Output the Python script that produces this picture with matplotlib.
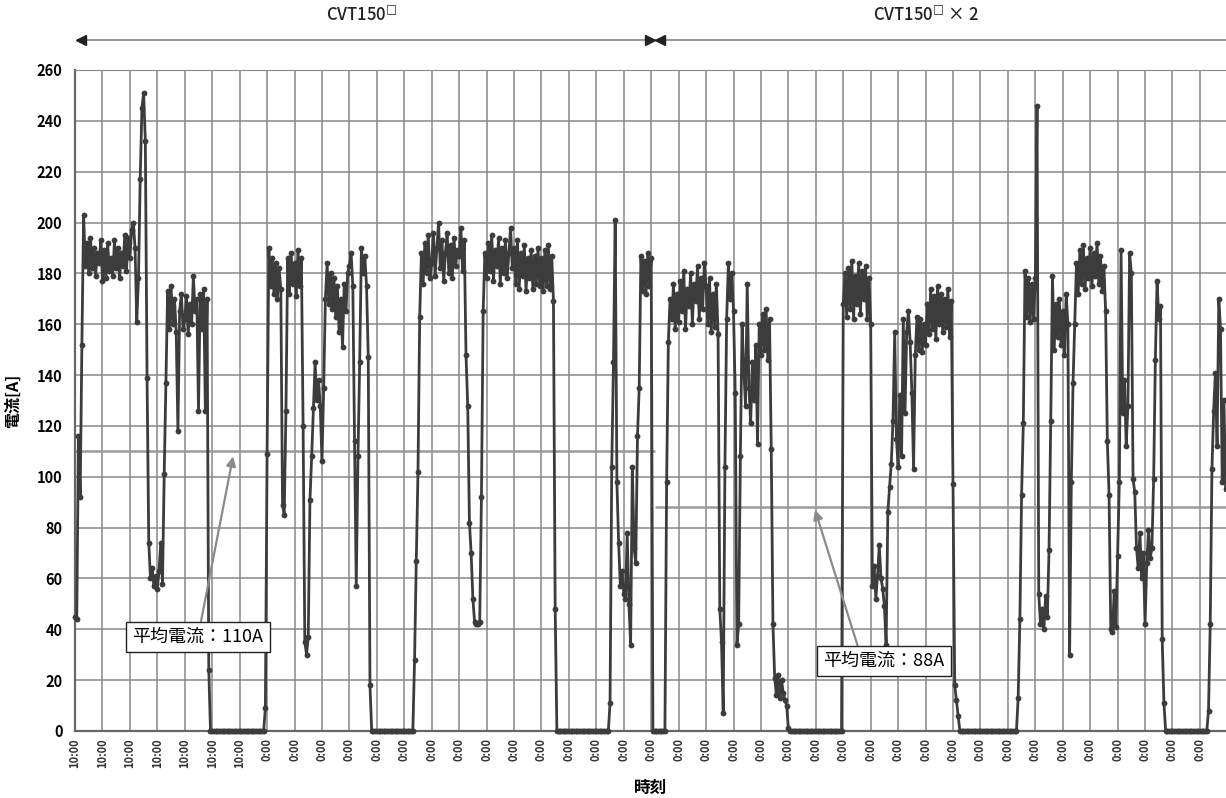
import numpy as np
import matplotlib
matplotlib.use('Agg')
import matplotlib.pyplot as plt
from matplotlib.transforms import blended_transform_factory

plt.rcParams['font.family'] = ['Noto Sans CJK JP', 'DejaVu Sans']

# Logged load current [A]; 16 samples per grid interval on the time axis
SAMPLES_PER_TICK = 16
current_a = [
    45, 44, 116, 92, 152, 203, 183, 192, 180, 194, 182, 190, 179, 188, 184, 193,
    177, 189, 178, 192, 181, 186, 179, 193, 182, 190, 178, 188, 183, 195, 181, 194,
    186, 197, 200, 190, 161, 178, 217, 245, 251, 232, 139, 74, 60, 64, 57, 61,
    56, 63, 74, 58, 101, 137, 173, 158, 175, 160, 170, 157, 118, 165, 172, 158,
    162, 171, 156, 168, 160, 179, 165, 170, 126, 172, 158, 174, 126, 170, 24, 0,
    0, 0, 0, 0, 0, 0, 0, 0, 0, 0, 0, 0, 0, 0, 0, 0,
    0, 0, 0, 0, 0, 0, 0, 0, 0, 0, 0, 0, 0, 0, 0, 9,
    109, 190, 175, 186, 172, 184, 170, 182, 174, 89, 85, 126, 186, 172, 188, 176,
    184, 171, 189, 175, 186, 120, 35, 30, 37, 91, 108, 127, 145, 130, 138, 128,
    106, 135, 170, 184, 168, 180, 166, 178, 163, 175, 157, 170, 151, 176, 165, 180,
    183, 188, 175, 114, 57, 108, 145, 190, 180, 187, 175, 147, 18, 0, 0, 0,
    0, 0, 0, 0, 0, 0, 0, 0, 0, 0, 0, 0, 0, 0, 0, 0,
    0, 0, 0, 0, 0, 0, 28, 67, 102, 163, 188, 176, 192, 180, 195, 178,
    184, 196, 179, 190, 200, 182, 193, 177, 188, 196, 180, 191, 178, 194, 183, 189,
    187, 198, 181, 193, 148, 128, 82, 70, 52, 43, 42, 42, 43, 92, 165, 188,
    178, 192, 181, 195, 177, 189, 183, 194, 176, 190, 180, 193, 178, 188, 198, 182,
    190, 176, 193, 174, 188, 179, 191, 173, 186, 178, 189, 174, 187, 176, 190, 175,
    186, 173, 189, 175, 191, 174, 187, 169, 48, 0, 0, 0, 0, 0, 0, 0,
    0, 0, 0, 0, 0, 0, 0, 0, 0, 0, 0, 0, 0, 0, 0, 0,
    0, 0, 0, 0, 0, 0, 0, 0, 11, 104, 145, 201, 98, 74, 57, 63,
    54, 52, 78, 50, 34, 104, 72, 66, 116, 135, 187, 173, 185, 172, 188, 175,
    186, 0, 0, 0, 0, 0, 0, 0, 0, 98, 153, 170, 162, 176, 158, 172,
    161, 177, 165, 181, 158, 174, 167, 180, 160, 176, 169, 183, 162, 178, 166, 184,
    175, 160, 178, 157, 172, 159, 176, 156, 48, 35, 7, 104, 162, 184, 170, 180,
    165, 133, 34, 42, 108, 160, 142, 128, 176, 135, 121, 145, 130, 152, 113, 160,
    148, 164, 150, 166, 146, 162, 111, 42, 21, 14, 22, 13, 20, 15, 12, 10,
    1, 0, 0, 0, 0, 0, 0, 0, 0, 0, 0, 0, 0, 0, 0, 0,
    0, 0, 0, 0, 0, 0, 0, 0, 0, 0, 0, 0, 0, 0, 0, 0,
    168, 180, 163, 182, 166, 185, 162, 179, 168, 184, 164, 181, 170, 183, 162, 178,
    160, 57, 65, 52, 61, 73, 60, 56, 49, 34, 86, 96, 105, 122, 157, 115,
    104, 132, 108, 162, 125, 157, 165, 153, 133, 103, 148, 163, 150, 162, 149, 160,
    152, 168, 156, 174, 158, 171, 154, 175, 160, 172, 157, 170, 159, 174, 155, 169,
    97, 18, 12, 6, 0, 0, 0, 0, 0, 0, 0, 0, 0, 0, 0, 0,
    0, 0, 0, 0, 0, 0, 0, 0, 0, 0, 0, 0, 0, 0, 0, 0,
    0, 0, 0, 0, 0, 0, 13, 44, 93, 121, 181, 163, 178, 161, 176, 162,
    178, 246, 54, 42, 48, 40, 53, 45, 71, 122, 179, 150, 168, 155, 170, 152,
    165, 148, 172, 160, 30, 98, 137, 160, 184, 172, 189, 176, 191, 174, 186, 178,
    190, 175, 188, 179, 192, 176, 187, 173, 183, 165, 114, 93, 40, 39, 55, 41,
    69, 98, 189, 125, 138, 112, 128, 188, 180, 99, 94, 72, 64, 78, 60, 70,
    42, 66, 79, 68, 72, 99, 146, 177, 162, 167, 36, 11, 0, 0, 0, 0,
    0, 0, 0, 0, 0, 0, 0, 0, 0, 0, 0, 0, 0, 0, 0, 0,
    0, 0, 0, 0, 0, 8, 42, 103, 126, 141, 112, 170, 158, 98, 130, 95,
]

tick_labels = ['10:00'] * 7 + ['0:00'] * 35

# Two cable configurations and their average currents
section_split = 21.15
section_names = ['CVT150$^{□}$', 'CVT150$^{□}$ × 2']
mean_current = [110, 88]
mean_labels = ['平均電流：110A', '平均電流：88A']

X_MAX = 41.95
LINE_COLOR = '#3c3c3c'
GRID_COLOR = '#878787'
MEAN_COLOR = '#9a9a9a'

t = np.arange(len(current_a)) / SAMPLES_PER_TICK

fig = plt.figure(figsize=(12.26, 7.98), dpi=100)
ax = fig.add_axes([0.0612, 0.0840, 0.9388, 0.8283])

ax.plot(t, current_a, '-o', color=LINE_COLOR, lw=2.0, markersize=4.2,
        markeredgewidth=0, zorder=3, clip_on=False)

# average current of each period
ax.hlines(mean_current[0], 0, section_split, color=MEAN_COLOR, lw=1.8, zorder=2.5)
ax.hlines(mean_current[1], section_split, X_MAX, color=MEAN_COLOR, lw=1.8, zorder=2.5)

ax.set_xlim(0, X_MAX)
ax.set_ylim(0, 260)
ax.set_yticks(np.arange(0, 261, 20))
ax.set_xticks(np.arange(len(tick_labels)))
ax.set_xticklabels(tick_labels, rotation=90, fontsize=8, fontweight='bold',
                   color='#333333')
for lab in ax.get_yticklabels():
    lab.set_fontsize(10.5)
    lab.set_fontweight('bold')
ax.tick_params(axis='both', length=0)
ax.tick_params(axis='x', pad=5)
ax.tick_params(axis='y', pad=9)

ax.grid(True, color=GRID_COLOR, lw=1.1)
ax.set_axisbelow(True)
for side in ['left', 'bottom']:
    ax.spines[side].set_color('#666666')
    ax.spines[side].set_linewidth(1.6)
ax.spines['top'].set_color(GRID_COLOR)
ax.spines['right'].set_visible(False)

ax.set_ylabel('電流[A]', fontsize=11.5, fontweight='bold')
ax.yaxis.set_label_coords(-0.047, 0.5)
ax.set_xlabel('時刻', fontsize=12, fontweight='bold')
ax.xaxis.set_label_coords(0.5, -0.072)

# period headers with span arrows above the plot
trans = blended_transform_factory(ax.transData, ax.transAxes)
arrow_y = 1.045
ax.plot([0.1, X_MAX], [arrow_y, arrow_y], color='#9a9a9a', lw=1.5,
        transform=trans, clip_on=False)
ax.plot([0.2, 21.33], [arrow_y, arrow_y], '<', color='#222222', markersize=6.5,
        transform=trans, clip_on=False)
ax.plot([20.97], [arrow_y], '>', color='#222222', markersize=6.5,
        transform=trans, clip_on=False)
ax.text(10.45, 1.083, section_names[0], transform=trans, ha='center',
        va='center', fontsize=12, fontweight='medium', color='#222222')
ax.text(31.0, 1.083, section_names[1], transform=trans, ha='center',
        va='center', fontsize=12, fontweight='medium', color='#222222')

box = dict(boxstyle='square,pad=0.35', fc='white', ec='#222222', lw=1.0)
arrow = dict(arrowstyle='-|>', color='#8a8a8a', lw=1.6, mutation_scale=14,
             shrinkA=0, shrinkB=0)
ax.annotate(mean_labels[0], xy=(5.76, mean_current[0] - 2), xytext=(4.48, 37),
            ha='center', va='center', fontsize=13, bbox=box,
            arrowprops=arrow, zorder=5)
ax.annotate(mean_labels[1], xy=(26.97, mean_current[1] - 1), xytext=(29.48, 27.5),
            ha='center', va='center', fontsize=13, bbox=box,
            arrowprops=dict(arrow, relpos=(0.3, 1.0)), zorder=5)

fig.savefig('out.png', dpi=100)
